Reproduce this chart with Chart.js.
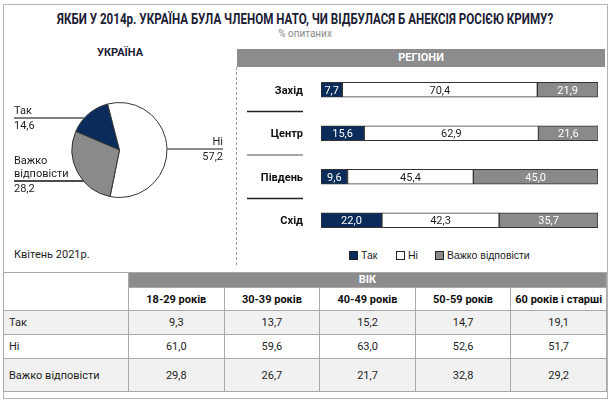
<!DOCTYPE html>
<html lang="uk">
<head>
<meta charset="UTF-8">
<title>НАТО і Крим</title>
<script src="https://cdn.jsdelivr.net/npm/chart.js"></script>
<style>
  body { margin: 0; background: #fff; }
  .page { position: relative; width: 612px; height: 400px; overflow: hidden;
          font-family: "Roboto", "DejaVu Sans Condensed", sans-serif; color: #1e1e1e; }
  .frame { position: absolute; left: 3px; top: 4px; width: 603px; height: 393px; border: 1px solid #b4b4b4; }
  .title { position: absolute; left: 0; width: 610px; top: 11px; text-align: center; font-weight: bold; font-size: 14px; color: #1b2035; }
  .title span { display: inline-block; white-space: nowrap; transform-origin: center; }
  .sub { position: absolute; left: 0; width: 610px; top: 28px; text-align: center; font-size: 10px; color: #8a8a8a; }
  .ukr { position: absolute; left: 61px; width: 118px; top: 46px; text-align: center; font-weight: bold; font-size: 11px; color: #1b2035; }
  .date { position: absolute; left: 14px; top: 248px; font-size: 11px; }
  .reg-head { position: absolute; left: 237px; top: 49px; width: 368px; height: 18px; background: #8c8c8c;
              color: #fff; font-weight: bold; font-size: 11px; text-align: center; line-height: 18px; }
  .dash { position: absolute; left: 236px; top: 67px; height: 198px; border-left: 1px dashed #9a9a9a; }
  #pieBox { position: absolute; left: 0; top: 90px; width: 236px; height: 120px; }
  #barBox { position: absolute; left: 237px; top: 64px; width: 370px; height: 181px; }
  .legend { position: absolute; top: 249px; left: 349px; font-family: "Liberation Sans", Arial, sans-serif; font-size: 10.5px; }
  .legend span.item { position: absolute; white-space: nowrap; line-height: 12px; }
  .legend i { display: inline-block; width: 7px; height: 7px; border: 1px solid #222; margin-right: 3px; vertical-align: -1px; }
  table { position: absolute; left: 3px; top: 272px; width: 604px; border-collapse: collapse; table-layout: fixed; font-size: 11px; }
  td, th { border: 1.5px solid #a8a8a8; padding: 0; text-align: center; white-space: nowrap; }
  th.age { background: #8c8c8c; color: #fff; height: 14px; font-size: 11px; line-height: 14px; }
  th.col { height: 22px; background: #fff; color: #111; }
  td { height: 23px; }
  td.lab { text-align: left; padding-left: 5px; }
  tr.shade td { background: #f1f1f1; }
  tr.last td { height: 32px; }
</style>
</head>
<body>
<div class="page">
  <div class="frame"></div>
  <div class="title"><span id="title">ЯКБИ У 2014р. УКРАЇНА БУЛА ЧЛЕНОМ НАТО, ЧИ ВІДБУЛАСЯ Б АНЕКСІЯ РОСІЄЮ КРИМУ?</span></div>
  <div class="sub">% опитаних</div>
  <div class="ukr">УКРАЇНА</div>
  <div id="pieBox"><canvas id="pie"></canvas></div>
  <div class="date">Квітень 2021р.</div>

  <div class="reg-head">РЕГІОНИ</div>
  <div class="dash"></div>
  <div id="barBox"><canvas id="bars"></canvas></div>
  <div class="legend" id="legend"></div>

  <table id="ageTable"></table>
</div>

<script>
  // дані
  const answers = ['Так', 'Ні', 'Важко відповісти'];
  const colors = ['#0b2c5a', '#ffffff', '#8a8a8a'];
  const ukraine = [14.6, 57.2, 28.2];

  const regions = ['Захід', 'Центр', 'Південь', 'Схід'];
  const regYes = [7.7, 15.6, 9.6, 22.0];
  const regNo = [70.4, 62.9, 45.4, 42.3];
  const regHard = [21.9, 21.6, 45.0, 35.7];

  const ages = ['18-29 років', '30-39 років', '40-49 років', '50-59 років', '60 років і старші'];
  const ageYes = [9.3, 13.7, 15.2, 14.7, 19.1];
  const ageNo = [61.0, 59.6, 63.0, 52.6, 51.7];
  const ageHard = [29.8, 26.7, 21.7, 32.8, 29.2];

  const FONT = 'Roboto, "DejaVu Sans Condensed", sans-serif';
  const fmt = v => v.toFixed(1).replace('.', ',');

  // заголовок стискаємо до ширини оригіналу
  const t = document.getElementById('title');
  t.style.transform = 'scaleX(' + (496 / t.offsetWidth) + ')';

  // підписи до секторів: лінія на висоті lineY (від верху canvas)
  const pieLabels = [
    { side: 'left', lineY: 28, lineX: 14, lines: ['Так'], color: '#555' },
    { side: 'right', lineY: 59, lineX: 223, lines: ['Ні'], color: '#666' },
    { side: 'left', lineY: 91, lineX: 14, lines: ['Важко', 'відповісти'], color: '#111' }
  ];

  const pieLeader = {
    id: 'pieLeader',
    afterDraw(chart) {
      const ctx = chart.ctx;
      const arc = chart.getDatasetMeta(0).data[0];
      const cx = arc.x, cy = arc.y, r = arc.outerRadius;
      ctx.save();
      ctx.font = '11px ' + FONT;
      ctx.fillStyle = '#1e1e1e';
      ctx.textBaseline = 'middle';
      pieLabels.forEach((p, i) => {
        const dy = p.lineY - cy;
        const dx = Math.sqrt(Math.max(r * r - dy * dy, 0));
        const edge = p.side === 'left' ? cx - dx : cx + dx;
        ctx.strokeStyle = p.color;
        ctx.lineWidth = 1.5;
        ctx.beginPath();
        ctx.moveTo(p.lineX, p.lineY);
        ctx.lineTo(edge, p.lineY);
        ctx.stroke();
        ctx.textAlign = p.side === 'left' ? 'left' : 'right';
        p.lines.forEach((s, k) => {
          ctx.fillText(s, p.lineX, p.lineY - 7 - (p.lines.length - 1 - k) * 13);
        });
        ctx.fillText(fmt(ukraine[i]), p.lineX, p.lineY + 8);
      });
      ctx.restore();
    }
  };

  new Chart(document.getElementById('pie'), {
    type: 'pie',
    data: {
      labels: answers,
      datasets: [{
        data: ukraine,
        backgroundColor: colors,
        borderColor: '#333',
        borderWidth: 1
      }]
    },
    options: {
      responsive: true,
      maintainAspectRatio: false,
      animation: false,
      rotation: -67,
      layout: { padding: { left: 3, right: 0, top: 12, bottom: 12 } },
      plugins: { legend: { display: false }, tooltip: { enabled: false } }
    },
    plugins: [pieLeader]
  });

  // регіони
  const sepColors = ['#222', '#8a8a8a', '#222'];
  const barDecor = {
    id: 'barDecor',
    afterDatasetsDraw(chart) {
      const ctx = chart.ctx;
      const y = chart.scales.y;
      ctx.save();
      ctx.textBaseline = 'middle';
      // назви регіонів
      ctx.font = 'bold 11px ' + FONT;
      ctx.fillStyle = '#111';
      ctx.textAlign = 'right';
      regions.forEach((r, i) => ctx.fillText(r, 66, y.getPixelForValue(i) + 1));
      // розділювачі
      for (let i = 0; i < regions.length - 1; i++) {
        const yy = (y.getPixelForValue(i) + y.getPixelForValue(i + 1)) / 2;
        ctx.strokeStyle = sepColors[i];
        ctx.lineWidth = 1.5;
        ctx.beginPath();
        ctx.moveTo(10, yy);
        ctx.lineTo(66, yy);
        ctx.stroke();
      }
      // значення
      ctx.font = '11px ' + FONT;
      ctx.textAlign = 'center';
      chart.data.datasets.forEach((ds, di) => {
        chart.getDatasetMeta(di).data.forEach((bar, j) => {
          ctx.fillStyle = di === 1 ? '#1e1e1e' : '#fff';
          ctx.fillText(fmt(ds.data[j]), (bar.x + bar.base) / 2, bar.y + 1);
        });
      });
      ctx.restore();
    }
  };

  const series = [regYes, regNo, regHard];
  new Chart(document.getElementById('bars'), {
    type: 'bar',
    data: {
      labels: regions,
      datasets: series.map((d, i) => ({
        label: answers[i],
        data: d,
        backgroundColor: colors[i],
        borderColor: '#333',
        borderWidth: 1,
        borderSkipped: false,
        barThickness: 15
      }))
    },
    options: {
      indexAxis: 'y',
      responsive: true,
      maintainAspectRatio: false,
      animation: false,
      layout: { padding: { left: 84, right: 9, top: 4, bottom: 3 } },
      scales: {
        x: { stacked: true, min: 0, max: 100, display: false },
        y: { stacked: true, display: false }
      },
      plugins: { legend: { display: false }, tooltip: { enabled: false } }
    },
    plugins: [barDecor]
  });

  // легенда
  const legendX = [0, 47, 86];
  const legend = document.getElementById('legend');
  answers.forEach((a, i) => {
    const s = document.createElement('span');
    s.className = 'item';
    s.style.left = legendX[i] + 'px';
    s.innerHTML = '<i style="background:' + colors[i] + '"></i>' + a;
    legend.appendChild(s);
  });

  // таблиця за віком
  const table = document.getElementById('ageTable');
  let html = '<colgroup><col style="width:125px">' + ages.map(() => '<col>').join('') + '</colgroup>';
  html += '<tr><th rowspan="2" style="background:#fff"></th><th class="age" colspan="' + ages.length + '">ВІК</th></tr>';
  html += '<tr>' + ages.map(a => '<th class="col">' + a + '</th>').join('') + '</tr>';
  const rows = [ageYes, ageNo, ageHard];
  const rowCls = ['shade', '', 'shade last'];
  rows.forEach((r, i) => {
    html += '<tr class="' + rowCls[i] + '"><td class="lab">' + answers[i] + '</td>' +
      r.map(v => '<td>' + fmt(v) + '</td>').join('') + '</tr>';
  });
  table.innerHTML = html;
</script>
</body>
</html>
